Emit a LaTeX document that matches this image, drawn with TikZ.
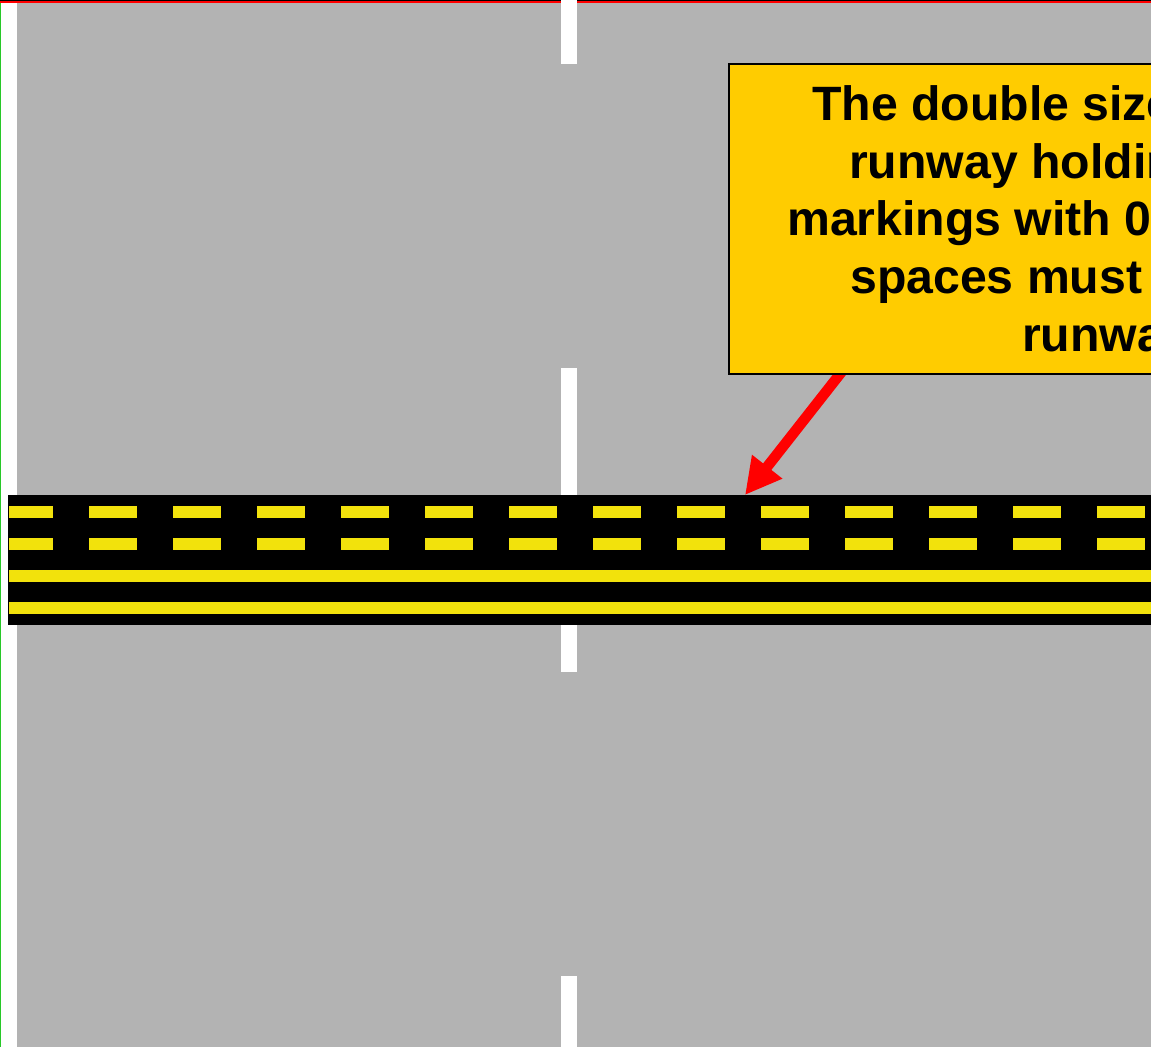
\documentclass[tikz,border=0pt]{standalone}
\usepackage{fontspec}
\setmainfont{Liberation Sans}
\usetikzlibrary{arrows.meta,calc}
\definecolor{ground}{RGB}{179,179,179}
\definecolor{mkyellow}{RGB}{242,226,12}
\definecolor{notefill}{RGB}{255,204,0}
\definecolor{edgegreen}{RGB}{40,200,40}
\pgfdeclarelayer{groundlayer}
\pgfdeclarelayer{arrowlayer}
\pgfsetlayers{groundlayer,arrowlayer,main}
\tikzset{
  yline/.style={fill=mkyellow},
  cline/.style={fill=white},
  notebox/.style={draw=black, line width=1.5pt, fill=notefill, inner sep=0pt, anchor=north west},
  notetext/.style={inner sep=0pt, anchor=base west, font=\bfseries\fontsize{48.2}{57.7}\selectfont},
  pointer/.style={draw=red, line width=10.5pt, -{Triangle[length=36pt,width=36pt]}}
}
\begin{document}
\begin{tikzpicture}[x=1pt,y=-1pt]
\useasboundingbox (0,0) rectangle (1151,1047);
\clip (0,0) rectangle (1151,1047);
\begin{pgfonlayer}{groundlayer}
  \fill[white] (0,0) rectangle (1151,1047);
  \fill[ground] (17,3) rectangle (1151,1047);
  \fill[black] (0,0) rectangle (1151,3);
  \fill[red] (0,0.8) rectangle (1151,2.5);
  \fill[edgegreen] (0,3) rectangle (1.2,1047);
  % taxiway centre line dashes
  \foreach \y in {-240,368,976} {\fill[cline] (561,\y) rectangle (577,\y+304);}
  % holding position marking band
  \node[fill=black, inner sep=0pt, minimum width=1160pt, minimum height=130pt, anchor=north west] (band) at (8,495) {};
  \foreach \k in {0,...,13} {
    \fill[yline] ({max(9,5+84*\k)},506) rectangle ({53+84*\k},518);
    \fill[yline] ({max(9,5+84*\k)},538) rectangle ({53+84*\k},550);
  }
  \fill[yline] (9,570) rectangle (1160,582);
  \fill[yline] (9,602) rectangle (1160,614);
\end{pgfonlayer}
\node[notebox, minimum width=800pt, minimum height=310pt] (callout) at (728,63) {};
\node[notetext] (l1) at (812,120.5) {The double size};
\node[notetext] (l2) at (849,178.2) {runway holding position};
\node[notetext] (l3) at (787,235.9) {markings with 0.9 m};
\node[notetext] (l4) at (850,293.6) {spaces must be used at};
\node[notetext] (l5) at (1022,351.3) {runway intersections};
\coordinate (tip) at ($(band.north west)+(737,0)$);
\begin{pgfonlayer}{arrowlayer}
  \draw[pointer] ($(callout.south west)+(121,-12)$) -- (tip);
\end{pgfonlayer}
\end{tikzpicture}
\end{document}
